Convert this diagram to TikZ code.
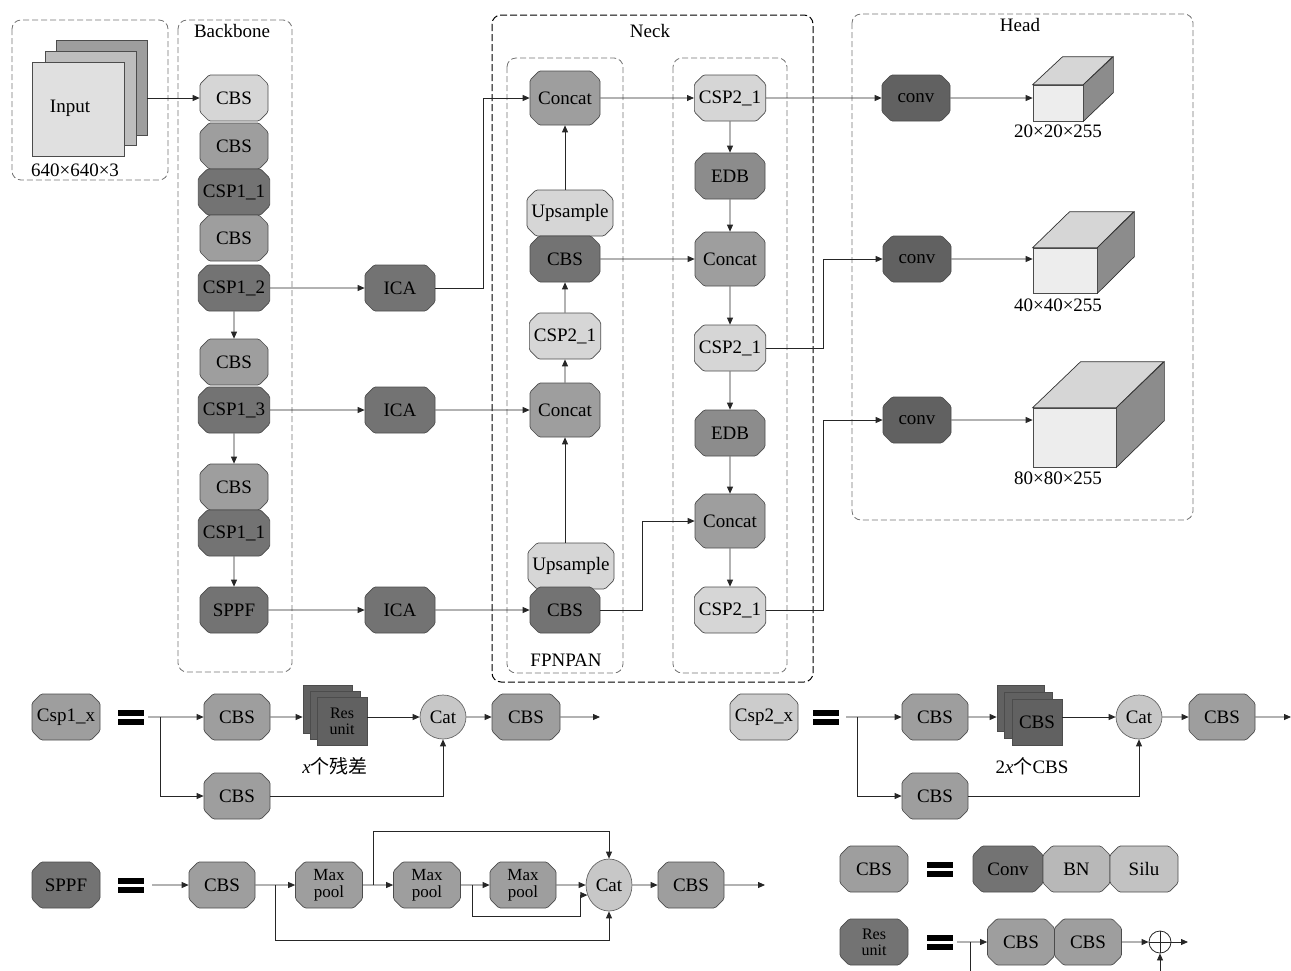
\documentclass[tikz,border=0pt]{standalone}
\usepackage{fontspec}
\setmainfont{Liberation Serif}
\newfontfamily\cjk{Noto Sans CJK SC}
\usetikzlibrary{shapes.misc,shapes.geometric,arrows.meta}
\begin{document}
\begin{tikzpicture}[x=1pt,y=-1pt,
  font=\fontsize{19}{21}\selectfont,
  blk/.style={chamfered rectangle, chamfered rectangle xsep=4.5pt, chamfered rectangle ysep=4.5pt,
    rounded corners=1.5pt,
    draw=black!70, line width=0.7pt, inner sep=0pt, minimum width=68pt, minimum height=46pt,
    align=center, text=black},
  lt/.style={blk, fill=black!16},
  md/.style={blk, fill=black!38},
  dk/.style={blk, fill=black!55},
  arr/.style={draw=black!85, line width=0.8pt, rounded corners=0pt, -{Triangle[length=7pt,width=6pt]}},
  ln/.style={draw=black!85, line width=0.8pt},
  dbox/.style={draw=black!55, line width=0.8pt, dash pattern=on 6pt off 3pt, rounded corners=9pt},
  dboxk/.style={draw=black, line width=1pt, dash pattern=on 7pt off 3pt, rounded corners=9pt},
  sq/.style={draw=black!70, line width=0.7pt, inner sep=0pt},
  catc/.style={ellipse, draw=black!60, line width=0.7pt, fill=black!22, inner sep=0pt, minimum width=46pt, minimum height=44pt},
  eqs/.pic={\fill[black] (-13,-7.5) rectangle (13,-1.5); \fill[black] (-13,1.5) rectangle (13,7.5);},
  lbl/.style={inner sep=0pt}
]
\useasboundingbox (0,0) rectangle (1291,970);

% ---------- dashed frames ----------
\draw[dbox] (12,20) rectangle (168,180);
\draw[dbox] (178,20) rectangle (292,672);
\draw[dboxk] (492,15) rectangle (813,682);
\draw[dbox] (507,58) rectangle (623,673);
\draw[dbox] (673,58) rectangle (787,673);
\draw[dbox] (852,14) rectangle (1193,520);
\node[lbl] (tbb) at (232,31) {Backbone};
\node[lbl] (tneck) at (650,31) {Neck};
\node[lbl] (thead) at (1020,25) {Head};
\node[lbl] (tfpn) at (566,660) {FPNPAN};

% ---------- input ----------
\node[sq, fill=black!38, minimum width=91pt, minimum height=95pt] (inb) at (101.5,87.5) {};
\node[sq, fill=black!26, minimum width=91pt, minimum height=94pt] (inm) at (90.5,98) {};
\node[sq, fill=black!12, minimum width=92pt, minimum height=94pt] (inf) at (78,109) {};
\node[lbl] (tinp) at (70,108) {Input};
\node[lbl] (tin) at (75,170) {640×640×3};

% ---------- backbone ----------
\node[lt] (b1) at (234,98) {CBS};
\node[md] (b2) at (234,146) {CBS};
\node[dk] (b3) at (234,192) {CSP1\_1};
\node[md] (b4) at (234,238) {CBS};
\node[dk] (b5) at (234,288) {CSP1\_2};
\node[md] (b6) at (234,362) {CBS};
\node[dk] (b7) at (234,410) {CSP1\_3};
\node[md] (b8) at (234,487) {CBS};
\node[dk] (b9) at (234,533) {CSP1\_1};
\node[dk] (b10) at (234,610) {SPPF};
\draw[arr] (inb.east |- b1.west) -- (b1.west);
\draw[arr] (b5) -- (b6);
\draw[arr] (b7) -- (b8);
\draw[arr] (b9) -- (b10);

% ---------- ICA ----------
\node[dk, minimum width=70pt] (i1) at (400,288) {ICA};
\node[dk, minimum width=70pt] (i2) at (400,410) {ICA};
\node[dk, minimum width=70pt] (i3) at (400,610) {ICA};
\draw[arr] (b5) -- (i1);
\draw[arr] (b7) -- (i2);
\draw[arr] (b10) -- (i3);

% ---------- neck left ----------
\node[md, minimum width=70pt, minimum height=54pt] (n1) at (565,98) {Concat};
\node[lt, minimum width=80pt] (n2) at (570,213) {Upsample};
\node[dk, minimum width=70pt] (n3) at (565,259) {CBS};
\node[lt, minimum width=70pt] (n4) at (565,336) {CSP2\_1};
\node[md, minimum width=70pt, minimum height=54pt] (n5) at (565,410) {Concat};
\node[lt, minimum width=82pt] (n6) at (571,566) {Upsample};
\node[dk, minimum width=70pt] (n7) at (565,610) {CBS};
\draw[arr] (n6.north -| n5) -- (n5.south);
\draw[arr] (n5) -- (n4);
\draw[arr] (n4) -- (n3);
\draw[arr] (n2.north -| n1) -- (n1.south);

% ---------- neck right ----------
\node[lt, minimum width=70pt] (p1) at (730,98) {CSP2\_1};
\node[md, minimum width=70pt, fill=black!45] (p2) at (730,176) {EDB};
\node[md, minimum width=70pt, minimum height=54pt] (p3) at (730,259) {Concat};
\node[lt, minimum width=70pt] (p4) at (730,348) {CSP2\_1};
\node[md, minimum width=70pt, fill=black!45] (p5) at (730,433) {EDB};
\node[md, minimum width=70pt, minimum height=54pt] (p6) at (730,521) {Concat};
\node[lt, minimum width=70pt] (p7) at (730,610) {CSP2\_1};
\draw[arr] (p1) -- (p2);
\draw[arr] (p2) -- (p3);
\draw[arr] (p3) -- (p4);
\draw[arr] (p4) -- (p5);
\draw[arr] (p5) -- (p6);
\draw[arr] (p6) -- (p7);

\draw[arr] (i1.east) -- ++(48,0) |- (n1.west);
\draw[arr] (i2) -- (n5);
\draw[arr] (i3) -- (n7);
\draw[arr] (n1) -- (p1);
\draw[arr] (n3) -- (p3);
\draw[arr] (n7.east) -- ++(42,0) |- (p6.west);

% ---------- head ----------
\node[dk, fill=black!62] (c1) at (916,98) {conv};
\node[dk, fill=black!62] (c2) at (917,259) {conv};
\node[dk, fill=black!62] (c3) at (917,420) {conv};
\draw[arr] (p1) -- (c1);
\draw[arr] (p4.east) -- ++(57,0) |- (c2.west);
\draw[arr] (p7.east) -- ++(57,0) |- (c3.west);

% cubes
\node[sq, fill=black!7, minimum width=50pt, minimum height=36pt] (f1) at (1058,103) {};
\filldraw[draw=black!80, fill=black!16, line width=0.7pt] (f1.north west) -- ++(30,-28) -- ++(50,0) -- (f1.north east) -- cycle;
\filldraw[draw=black!80, fill=black!45, line width=0.7pt] (f1.north east) -- ++(30,-28) -- ++(0,36) -- (f1.south east) -- cycle;
\node[lbl] (l1) at (1058,131) {20×20×255};
\node[sq, fill=black!7, minimum width=64pt, minimum height=45pt] (f2) at (1065,270.5) {};
\filldraw[draw=black!80, fill=black!16, line width=0.7pt] (f2.north west) -- ++(37,-36) -- ++(64,0) -- (f2.north east) -- cycle;
\filldraw[draw=black!80, fill=black!45, line width=0.7pt] (f2.north east) -- ++(37,-36) -- ++(0,45) -- (f2.south east) -- cycle;
\node[lbl] (l2) at (1058,305) {40×40×255};
\node[sq, fill=black!7, minimum width=83pt, minimum height=59pt] (f3) at (1074.5,437.5) {};
\filldraw[draw=black!80, fill=black!16, line width=0.7pt] (f3.north west) -- ++(48,-46) -- ++(83,0) -- (f3.north east) -- cycle;
\filldraw[draw=black!80, fill=black!45, line width=0.7pt] (f3.north east) -- ++(48,-46) -- ++(0,59) -- (f3.south east) -- cycle;
\node[lbl] (l3) at (1058,478) {80×80×255};
\draw[arr] (c1) -- (f1.west |- c1);
\draw[arr] (c2) -- (f2.west |- c2);
\draw[arr] (c3) -- (f3.west |- c3);

% ---------- Csp1_x ----------
\node[md] (k0) at (66,717) {Csp1\_x};
\pic at (131,717) {eqs};
\coordinate (ks) at (148,717);
\coordinate (kb) at (160,717);
\node[md, minimum width=66pt] (k1) at (237,717) {CBS};
\node[md, minimum width=66pt] (k2) at (237,796) {CBS};
\node[sq, fill=black!62, minimum width=49pt, minimum height=48pt] (kr1) at (327.5,709) {};
\node[sq, fill=black!62, minimum width=50pt, minimum height=48pt] (kr2) at (335,715) {};
\node[sq, fill=black!62, minimum width=50pt, minimum height=48pt, align=center, font=\fontsize{16}{16}\selectfont] (kr3) at (342,721) {Res\\unit};
\node[catc] (kc) at (443,717) {Cat};
\node[md, minimum width=68pt] (k3) at (526,717) {CBS};
\coordinate (ke) at (600,717);
\node[lbl] (kt) at (335,766) {\itshape x\upshape\cjk 个残差};
\draw[arr] (ks) -- (k1);
\draw[arr] (kb) |- (k2);
\draw[arr] (k1) -- (kr1.west |- k1);
\draw[arr] (kr3.east |- kc) -- (kc);
\draw[arr] (kc) -- (k3);
\draw[arr] (k3) -- (ke);
\draw[arr] (k2) -| (kc);

% ---------- Csp2_x ----------
\node[lt, fill=black!20] (m0) at (764,717) {Csp2\_x};
\pic at (826,717) {eqs};
\coordinate (ms) at (846,717);
\coordinate (mb) at (857,717);
\node[md, minimum width=66pt] (m1) at (935,717) {CBS};
\node[md, minimum width=66pt] (m2) at (935,796) {CBS};
\node[sq, fill=black!62, minimum width=47pt, minimum height=46pt] (mr1) at (1020.5,708) {};
\node[sq, fill=black!62, minimum width=48pt, minimum height=46pt] (mr2) at (1028,715) {};
\node[sq, fill=black!62, minimum width=50pt, minimum height=46pt] (mr3) at (1037,722) {CBS};
\node[catc] (mc) at (1139,717) {Cat};
\node[md, minimum width=66pt] (m3) at (1222,717) {CBS};
\coordinate (me) at (1291,717);
\node[lbl] (mt) at (1032,766) {2\itshape x\upshape\cjk 个\rmfamily CBS};
\draw[arr] (ms) -- (m1);
\draw[arr] (mb) |- (m2);
\draw[arr] (m1) -- (mr1.west |- m1);
\draw[arr] (mr3.east |- mc) -- (mc);
\draw[arr] (mc) -- (m3);
\draw[arr] (m3) -- (me);
\draw[arr] (m2) -| (mc);

% ---------- SPPF ----------
\node[dk] (s0) at (66,885) {SPPF};
\pic at (131,885) {eqs};
\coordinate (ss) at (152,885);
\node[md, minimum width=66pt] (s1) at (222,885) {CBS};
\node[md, minimum width=67pt, font=\fontsize{17}{17}\selectfont] (s2) at (329,885) {Max\\pool};
\node[md, minimum width=67pt, font=\fontsize{17}{17}\selectfont] (s3) at (427,885) {Max\\pool};
\node[md, minimum width=66pt, font=\fontsize{17}{17}\selectfont] (s4) at (523,885) {Max\\pool};
\node[catc, minimum height=52pt] (sc) at (609,885) {Cat};
\node[md, minimum width=66pt] (s5) at (691,885) {CBS};
\coordinate (se) at (765,885);
\coordinate (sb1) at (275,885);
\coordinate (sb2) at (373,885);
\coordinate (sb3) at (472,885);
\draw[arr] (ss) -- (s1);
\draw[arr] (s1) -- (s2);
\draw[arr] (s2) -- (s3);
\draw[arr] (s3) -- (s4);
\draw[arr] (s4) -- (sc);
\draw[arr] (sc) -- (s5);
\draw[arr] (s5) -- (se);
\draw[arr] (sb1) -- (sb1 |- 0,940) -| (sc.south);
\draw[arr] (sb2) -- (sb2 |- 0,831) -| (sc.north);
\draw[arr] (sb3) -- (sb3 |- 0,916) -- (580,916) |- (sc.205);

% ---------- CBS definition ----------
\node[md] (d0) at (874,869) {CBS};
\pic at (940,869) {eqs};
\node[dk, minimum width=70pt] (d1) at (1008,869) {Conv};
\node[md, minimum width=67pt, fill=black!28] (d2) at (1076.5,869) {BN};
\node[md, minimum width=68pt, fill=black!24] (d3) at (1144,869) {Silu};

% ---------- Res unit definition ----------
\node[dk, font=\fontsize{16}{16}\selectfont] (r0) at (874,942) {Res\\unit};
\pic at (940,942) {eqs};
\coordinate (rs) at (957,942);
\coordinate (rb) at (970,942);
\node[md, minimum width=67pt] (r1) at (1021,942) {CBS};
\node[md, minimum width=67pt] (r2) at (1088,942) {CBS};
\node[circle, draw=black!85, line width=0.8pt, minimum size=22pt, inner sep=0pt] (pl) at (1160,942) {};
\draw[ln] (pl.north) -- (pl.south) (pl.west) -- (pl.east);
\coordinate (re) at (1188,942);
\draw[arr] (rs) -- (r1);
\draw[arr] (r2) -- (pl);
\draw[arr] (pl) -- (re);
\draw[arr] (rb) -- (rb |- 0,990) -| (pl.south);
\end{tikzpicture}
\end{document}
